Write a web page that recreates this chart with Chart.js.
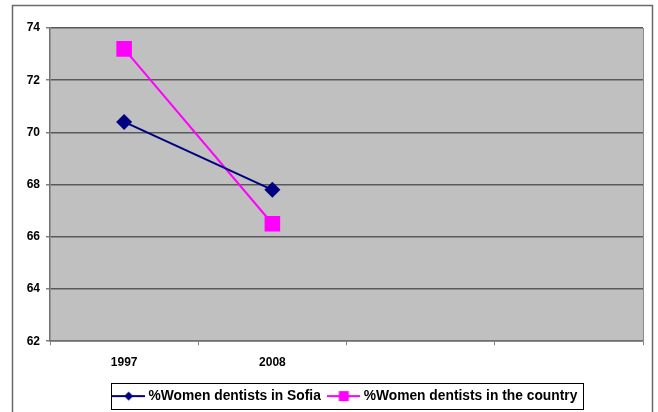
<!DOCTYPE html>
<html><head><meta charset="utf-8">
<script src="https://cdn.jsdelivr.net/npm/chart.js@4"></script>
<style>html,body{margin:0;padding:0;background:#fff}#wrap{width:658px;height:412px;position:relative}</style>
</head><body><div id="wrap"><canvas id="c" width="658" height="412"></canvas></div>
<script>
const categories = ['1997', '2008', '', ''];
const sofia = [70.4, 67.8, null, null];
const country = [73.2, 66.5, null, null];
const yTicks = [62, 64, 66, 68, 70, 72, 74];
const seriesNames = ['%Women dentists in Sofia', '%Women dentists in the country'];

function legendIcon(color, style) {
  const cv = document.createElement('canvas');
  cv.width = 33; cv.height = 12;
  const g = cv.getContext('2d');
  g.strokeStyle = color; g.lineWidth = 2;
  g.beginPath(); g.moveTo(0, 6); g.lineTo(33, 6); g.stroke();
  g.fillStyle = color;
  if (style === 'diamond') {
    g.beginPath(); g.moveTo(16.5, 1.5); g.lineTo(21, 6); g.lineTo(16.5, 10.5); g.lineTo(12, 6); g.closePath(); g.fill();
  } else {
    g.fillRect(11.5, 1, 10, 10);
  }
  return cv;
}
const icons = [legendIcon('#000080', 'diamond'), legendIcon('#ff00ff', 'square')];

const TICKFONT = {family: "'Liberation Sans', Arial, sans-serif", size: 12, weight: 'bold'};
const LEGFONT = {family: "'Liberation Sans', Arial, sans-serif", size: 13.8, weight: 'bold'};

const decor = {
  id: 'decor',
  afterLayout(chart) {
    const lg = chart.legend;
    if (lg) { lg.left += 25; lg.right += 25; lg.top += 3; lg.bottom += 3; }
  },
  beforeDraw(chart) {
    const {ctx, chartArea: a} = chart;
    ctx.save();
    ctx.fillStyle = '#c0c0c0';
    ctx.fillRect(a.left, a.top, a.right - a.left, a.bottom - a.top);
    ctx.restore();
  },
  beforeDatasetsDraw(chart) {
    const {ctx, chartArea: a} = chart;
    ctx.save();
    ctx.strokeStyle = '#8a8a8a'; ctx.lineWidth = 1;
    ctx.beginPath(); ctx.moveTo(a.right + 0.5, a.top); ctx.lineTo(a.right + 0.5, a.bottom); ctx.stroke();
    ctx.restore();
  },
  afterDraw(chart) {
    const ctx = chart.ctx;
    ctx.save();
    ctx.strokeStyle = '#6a6a6a'; ctx.lineWidth = 1.5;
    ctx.strokeRect(12.5, 5.5, 640, 410);
    const hb = chart.legend.legendHitBoxes;
    if (hb && hb.length) {
      let l = Math.min(...hb.map(b => b.left)), r = Math.max(...hb.map(b => b.left + b.width));
      let t = Math.min(...hb.map(b => b.top)), bt = Math.max(...hb.map(b => b.top + b.height));
      ctx.strokeStyle = '#000'; ctx.lineWidth = 1;
      ctx.strokeRect(Math.round(l - 5) + 0.5, Math.round(t - 6) + 0.5, Math.round(r - l + 10), Math.round(bt - t + 12));
    }
    ctx.restore();
  }
};

new Chart(document.getElementById('c'), {
  type: 'line',
  data: {
    labels: categories,
    datasets: [
      {label: seriesNames[0], data: sofia, borderColor: '#000080', backgroundColor: '#000080',
       borderWidth: 2, pointStyle: 'rectRot', pointRadius: 8, pointBorderWidth: 0, tension: 0},
      {label: seriesNames[1], data: country, borderColor: '#ff00ff', backgroundColor: '#ff00ff',
       borderWidth: 2, pointStyle: 'rect', pointRadius: 11, pointBorderWidth: 0, tension: 0}
    ]
  },
  options: {
    responsive: false, animation: false, devicePixelRatio: 1,
    layout: {padding: {top: 28, right: 15, left: 0, bottom: 2}},
    plugins: {
      tooltip: {enabled: false},
      legend: {
        position: 'bottom',
        labels: {
          font: LEGFONT, color: '#000', usePointStyle: true, pointStyleWidth: 26, boxHeight: 12, padding: 10,
          generateLabels(chart) {
            return chart.data.datasets.map((d, i) => ({
              text: d.label, pointStyle: icons[i], fillStyle: d.borderColor, strokeStyle: d.borderColor,
              lineWidth: 0, hidden: false, datasetIndex: i, fontColor: '#000'
            }));
          }
        }
      }
    },
    scales: {
      x: {
        offset: true,
        grid: {offset: true, drawOnChartArea: false, drawTicks: true, tickLength: 4, color: '#808080'},
        border: {display: true, color: '#707070', width: 1.5},
        ticks: {font: TICKFONT, color: '#000', padding: 10, maxRotation: 0, autoSkip: false},
        afterFit(s) { s.height = 35; }
      },
      y: {
        min: 62, max: 74,
        afterBuildTicks(s) { s.ticks = yTicks.map(v => ({value: v})); },
        grid: {color: '#5a5a5a', lineWidth: 1.5, tickLength: 4, tickColor: '#808080'},
        border: {display: true, color: '#707070', width: 1.5},
        ticks: {font: TICKFONT, color: '#000', padding: 6},
        afterFit(s) { s.width = 50; }
      }
    }
  },
  plugins: [decor]
});
</script>
</body></html>
